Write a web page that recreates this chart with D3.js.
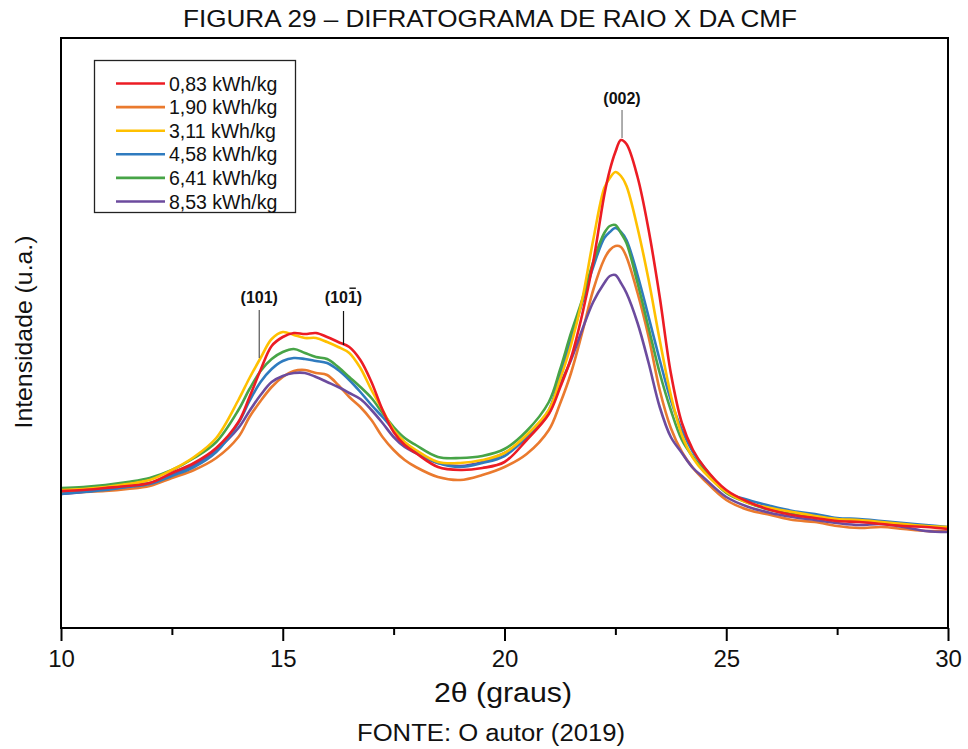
<!DOCTYPE html>
<html>
<head>
<meta charset="utf-8">
<script src="https://cdn.jsdelivr.net/npm/d3@7"></script>
<style>
  body { margin: 0; background: #fff; }
  svg { display: block; }
  text { font-family: "Liberation Sans", Arial, Helvetica, sans-serif; fill: #111; }
</style>
</head>
<body>
<svg id="chart" width="968" height="749"></svg>
<script>
// ---------------- DATA ----------------
const twoTheta = [10, 10.5, 11, 11.5, 12, 12.5, 13, 13.5, 14, 14.25, 14.5, 14.75, 15, 15.25, 15.5, 15.75,
  16, 16.25, 16.5, 16.75, 17, 17.25, 17.5, 17.75, 18, 18.5, 19, 19.5, 20, 20.5, 21, 21.25, 21.5, 21.75,
  22, 22.25, 22.375, 22.5, 22.625, 22.75, 23, 23.25, 23.5, 23.75, 24, 24.25, 24.5, 25, 25.5, 26, 26.5,
  27, 27.5, 28, 28.5, 29, 29.5, 30];

const seriesNames = ["0,83 kWh/kg", "1,90 kWh/kg", "3,11 kWh/kg", "4,58 kWh/kg", "6,41 kWh/kg", "8,53 kWh/kg"];
const seriesColors = ["#ec1c24", "#ea7a2e", "#ffc000", "#2f7bbf", "#47a447", "#6c4b9e"];

const int083 = [137,138,140,142,145,155,165,180, 206,231,258,282, 291,295,294,295, 291,286,281,268,
  246,218,196,183, 175,161,158,160,166,188,214, 240,270,313, 366,433,458,476,488,484,
  451,398,331,255, 205,178,161, 138,126,118,113,110,107,106,104,102,101,99];
const int190 = [135,136,137,139,142,150,158,170, 191,211,227,241, 251,257,258,255, 253,243,231,221,
  208,191,178,168, 161,151,148,153,161,174,198, 224,255,295, 338,369,378,382,381,371,
  335,291,238,200, 176,160,148, 128,118,113,108,106,102,100,101,99,97,97];
const int311 = [138,139,141,144,148,158,171,190, 228,250,270,289, 296,293,290,290, 286,281,275,260,
  238,218,198,186, 178,166,165,168,175,193,218, 248,283,328, 388,440,450,456,452,442,
  400,348,288,233, 193,170,156, 136,125,120,116,112,109,108,106,104,102,101];
const int458 = [134,136,138,141,144,152,161,176, 205,227,246,259, 267,270,269,267, 265,258,248,236,
  223,211,198,185, 176,165,161,165,172,191,218, 252,288,325, 361,390,396,400,396,388,
  353,311,268,228, 198,176,161, 136,128,122,117,114,110,109,107,105,103,101];
const int641 = [140,141,143,146,150,158,170,186, 218,239,257,269, 276,279,275,271, 269,261,251,241,
  230,215,201,190, 183,171,170,172,179,197,226, 258,295,328, 366,395,402,403,395,385,
  345,300,255,218, 188,171,158, 135,125,118,114,111,108,107,105,103,102,100];
const int853 = [134,136,139,142,145,153,163,178, 200,217,233,246, 252,255,255,251, 246,241,235,229,
  218,205,191,181, 175,165,162,166,175,190,215, 243,268,298, 326,345,352,353,345,335,
  305,265,221,191, 175,160,150, 131,121,115,111,108,105,103,104,101,97,96];

const seriesValues = [int083, int190, int311, int458, int641, int853];
// draw order (back to front) as in the reference
const drawOrder = [1, 5, 3, 4, 2, 0];

const majorTicks = [10, 15, 20, 25, 30];
const minorTicks = [12.5, 17.5, 22.5, 27.5];

const peakLabels = [
  { text: "(101)", pos: 14.47, bar: 1 },
  { text: "(101)", pos: 16.37, bar: 2 },
  { text: "(002)", pos: 22.65, bar: -1 }
];

// ---------------- CHART ----------------
const svg = d3.select("#chart");
const L = 61, R = 948, T = 38, B = 628;
const x = d3.scaleLinear().domain([10, 30]).range([L, R]);
const y = d3.scaleLinear().domain([0, 590]).range([B, T]);

svg.append("rect").attr("width", 968).attr("height", 749).attr("fill", "#fff");

svg.append("clipPath").attr("id", "clip")
  .append("rect").attr("x", L).attr("y", T).attr("width", R - L).attr("height", B - T);

const line = d3.line()
  .x((d, i) => x(twoTheta[i]))
  .y(d => y(d))
  .curve(d3.curveCatmullRom.alpha(0.5));

const g = svg.append("g").attr("clip-path", "url(#clip)");
drawOrder.forEach(si => {
  g.append("path")
    .datum(seriesValues[si])
    .attr("d", line)
    .attr("fill", "none")
    .attr("stroke", seriesColors[si])
    .attr("stroke-width", 2.6)
    .attr("stroke-linejoin", "round");
});

// axes
const xAxis = d3.axisBottom(x).tickValues(majorTicks).tickSize(13).tickSizeOuter(0).tickPadding(9)
  .tickFormat(d3.format("d"));
const ax = svg.append("g").attr("transform", `translate(0,${B})`).call(xAxis);
ax.select(".domain").remove();
ax.selectAll(".tick line").attr("stroke", "#000").attr("stroke-width", 2);
ax.selectAll(".tick text").attr("font-size", 24).attr("fill", "#111")
  .style("font-family", '"Liberation Sans", Arial, sans-serif');

const axMinor = svg.append("g").attr("transform", `translate(0,${B})`)
  .call(d3.axisBottom(x).tickValues(minorTicks).tickSize(7).tickSizeOuter(0).tickFormat(""));
axMinor.select(".domain").remove();
axMinor.selectAll(".tick line").attr("stroke", "#000").attr("stroke-width", 2);

// frame
svg.append("rect").attr("x", L).attr("y", T).attr("width", R - L).attr("height", B - T)
  .attr("fill", "none").attr("stroke", "#000").attr("stroke-width", 2);

// peak labels
peakLabels.forEach((p) => {
  const px = x(p.pos);
  const isTop = p.bar === -1;
  const ty = isTop ? 104 : 303;
  const t = svg.append("text")
    .attr("x", px).attr("y", ty)
    .attr("text-anchor", "middle")
    .attr("font-size", 16).attr("font-weight", "bold")
    .text(p.text);
  if (p.bar === 2) {
    const bb = t.node().getExtentOfChar(3);
    svg.append("line")
      .attr("x1", bb.x + 1.5).attr("x2", bb.x + bb.width - 1)
      .attr("y1", ty - 14.8).attr("y2", ty - 14.8)
      .attr("stroke", "#111").attr("stroke-width", 1.4);
  }
  let y1, y2, col;
  if (isTop) { y1 = 110; y2 = 138; col = "#777"; }
  else if (p.bar === 1) { y1 = 310; y2 = 358; col = "#555"; }
  else { y1 = 311; y2 = 345; col = "#111"; }
  svg.append("line").attr("x1", px).attr("x2", px).attr("y1", y1).attr("y2", y2)
    .attr("stroke", col).attr("stroke-width", 1.2);
});

// legend
const lg = svg.append("g");
lg.append("rect").attr("x", 94.5).attr("y", 60.5).attr("width", 201).attr("height", 152)
  .attr("fill", "#fff").attr("stroke", "#222").attr("stroke-width", 1.3);
seriesNames.forEach((name, i) => {
  const cy = 83.5 + i * 23.6;
  lg.append("line").attr("x1", 116).attr("x2", 165).attr("y1", cy).attr("y2", cy)
    .attr("stroke", seriesColors[i]).attr("stroke-width", 2.6);
  lg.append("text").attr("x", 169).attr("y", cy).attr("dy", "0.36em")
    .attr("font-size", 19.5).text(name);
});

// titles
svg.append("text").attr("x", 490).attr("y", 27).attr("text-anchor", "middle")
  .attr("font-size", 24).attr("textLength", 614).attr("lengthAdjust", "spacingAndGlyphs")
  .text("FIGURA 29 – DIFRATOGRAMA DE RAIO X DA CMF");

svg.append("text").attr("transform", "translate(32,332) rotate(-90)").attr("text-anchor", "middle")
  .attr("font-size", 24).attr("textLength", 193).attr("lengthAdjust", "spacingAndGlyphs")
  .text("Intensidade (u.a.)");

svg.append("text").attr("x", 503).attr("y", 702).attr("text-anchor", "middle")
  .attr("font-size", 27).attr("textLength", 138).attr("lengthAdjust", "spacingAndGlyphs")
  .text("2θ (graus)");

svg.append("text").attr("x", 491).attr("y", 741).attr("text-anchor", "middle")
  .attr("font-size", 23).attr("textLength", 268).attr("lengthAdjust", "spacingAndGlyphs")
  .text("FONTE: O autor (2019)");
</script>
</body>
</html>
